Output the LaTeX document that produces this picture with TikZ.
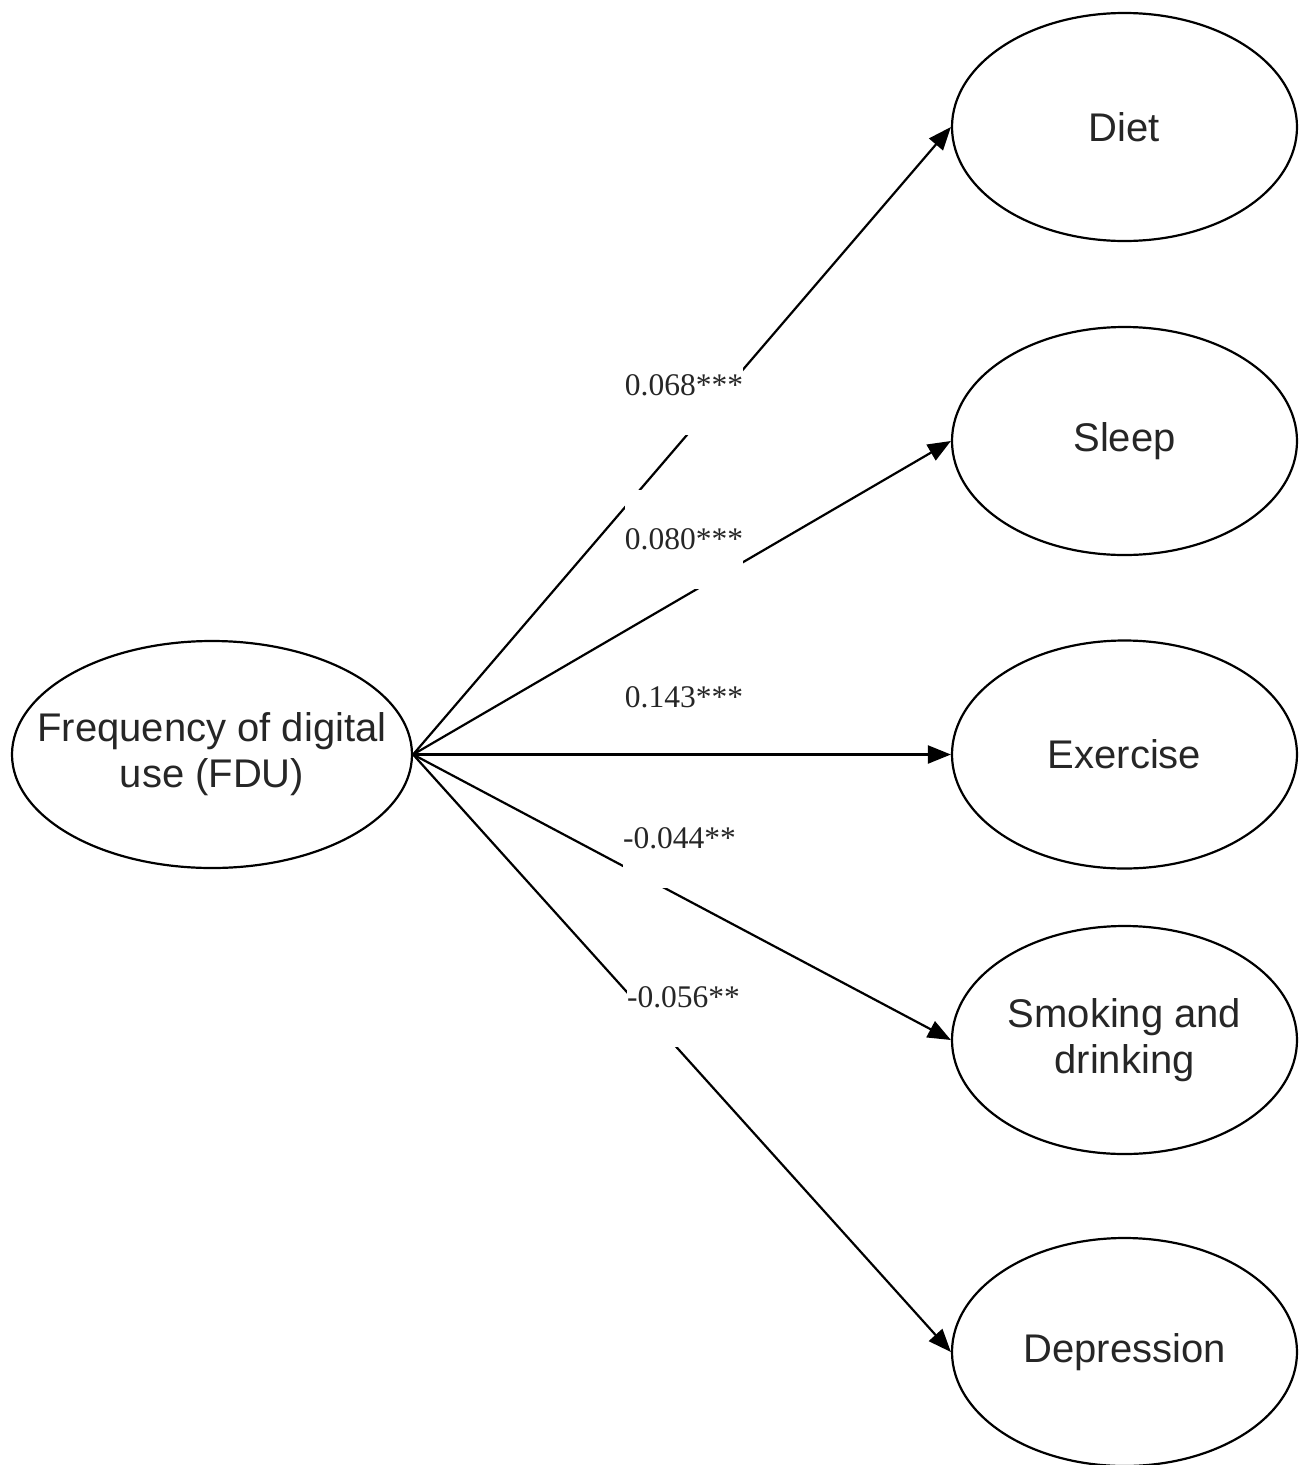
\documentclass[tikz,border=0pt]{standalone}
\usepackage{fontspec}
\setmainfont{Liberation Sans}
\newfontfamily\lserif{Liberation Serif}
\usetikzlibrary{shapes.geometric,arrows.meta}
\begin{document}
\begin{tikzpicture}[x=1pt,y=-1pt,
  var/.style={ellipse,draw=black,line width=2.2pt,inner sep=0pt,
    minimum width=345pt,minimum height=228pt,align=center,
    text=black!85,font=\fontsize{40}{46}\selectfont},
  path/.style={line width=2.2pt,-{Triangle[length=23pt,width=18pt]}},
  coef/.style={fill=white,inner xsep=0pt,inner ysep=0pt,minimum height=99pt,
    text=black!85,font=\lserif\fontsize{31.5}{36}\selectfont}]
\useasboundingbox (0,0) rectangle (1299,1465);
\node[var,minimum width=400pt,minimum height=227pt,
  label={[align=center,text=black!85,font=\fontsize{40}{46}\selectfont]center:Frequency of digital\\use (FDU)}] (fdu) at (212,754.5) {};
\node[var] (diet) at (1124.5,127) {Diet};
\node[var] (sleep) at (1124.5,441) {Sleep};
\node[var] (exer) at (1124.5,754.5) {Exercise};
\node[var] (smoke) at (1124.5,1040) {Smoking and\\drinking};
\node[var] (dep) at (1124.5,1352) {Depression};
\draw[path] (fdu.east) -- (diet.west);
\draw[path] (fdu.east) -- (sleep.west);
\draw[path] (fdu.east) -- (exer.west);
\draw[path] (fdu.east) -- (smoke.west);
\draw[path] (fdu.east) -- (dep.west);
\node[coef] (c1) at (684,385.5) {0.068***};
\node[coef] (c2) at (684,539.5) {0.080***};
\node[coef] (c3) at (684,697) {0.143***};
\node[coef] (c4) at (679.5,838.5) {-0.044**};
\node[coef] (c5) at (683.5,997.5) {-0.056**};
\end{tikzpicture}
\end{document}
